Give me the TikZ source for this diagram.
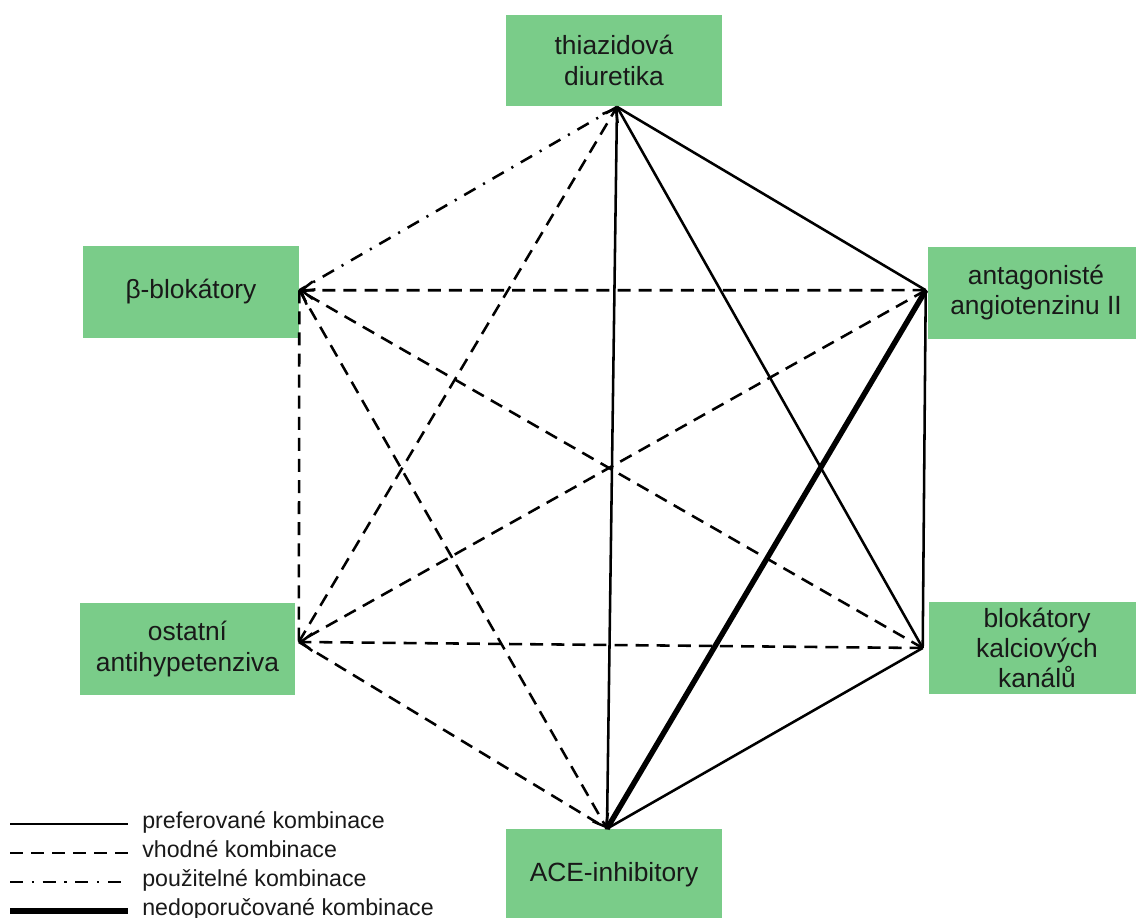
\documentclass[tikz,border=0pt]{standalone}
\usepackage{fontspec}
\setmainfont{Liberation Sans}
\usetikzlibrary{arrows.meta}
\definecolor{boxgreen}{RGB}{122,204,137}
\begin{document}
\begin{tikzpicture}[x=0.02cm,y=-0.02cm,
  box/.style={fill=boxgreen, inner sep=0pt, align=center, minimum width=4.32cm, minimum height=1.84cm,
    font=\fontsize{15}{17.3}\selectfont, text=black!90},
  conn/.style={line width=1.45pt},
  pref/.style={conn},
  vhod/.style={conn, dash pattern=on 7.4pt off 4.6pt},
  pouz/.style={conn, dash pattern=on 7.4pt off 5pt on 1.2pt off 5pt},
  nedo/.style={line width=3.1pt},
  tip/.style={-{Straight Barb[length=6.5pt,width=10pt]}},
  legtext/.style={anchor=mid west, font=\fontsize{13.2}{15}\selectfont, inner sep=0pt, text=black!90}
]
\useasboundingbox (0,0) rectangle (1136,917);
\clip (0,0) rectangle (1136,917);

% boxes
\node[box] (thiaz) at (614,60.5) {thiazidová\\diuretika};
\node[box] (beta) at (191,292) {β-blokátory};
\node[box] (antag) at (1036,292.5) {antagonisté\\angiotenzinu II};
\node[box] (other) at (187.5,649) {ostatní\\antihypetenziva};
\node[box] (blok) at (1037,648) {blokátory\\kalciových\\kanálů};
\node[box] (ace) at (614,875) {ACE-inhibitory};

% connection points
\coordinate (T) at ([xshift=1.7pt]thiaz.south);
\coordinate (B) at ([yshift=1pt]beta.east);
\coordinate (A) at ([xshift=-1.1pt,yshift=1.3pt]antag.west);
\coordinate (K) at ([xshift=-3.4pt]blok.west);
\coordinate (O) at ([xshift=1.7pt,yshift=4pt]other.east);
\coordinate (E) at ([xshift=-4pt]ace.north);

% connectors
\draw[pouz] (T) -- (B);
\draw[pref] (T) -- (E);
\draw[pref] (T) -- (A);
\draw[pref] (T) -- (K);
\draw[vhod,tip] (O) -- (T);
\draw[vhod,tip] (A) -- (B);
\draw[vhod,tip] (K) -- (B);
\draw[vhod] (B) -- (O);
\draw[vhod,tip] (B) -- (E);
\draw[vhod] (A) -- (O);
\draw[nedo] (A) -- (E);
\draw[pref] (A) -- (K);
\draw[vhod,tip] (K) -- (O);
\draw[vhod] (O) -- (E);
\draw[pref] (K) -- (E);

% legend
\coordinate (l1a) at (10,824); \coordinate (l1b) at (128,824);
\coordinate (l2a) at (10,853); \coordinate (l2b) at (128,853);
\coordinate (l3a) at (10,882); \coordinate (l3b) at (128,882);
\coordinate (l4a) at (10,911); \coordinate (l4b) at (128,911);
\draw[pref] (l1a) -- (l1b);
\draw[vhod] (l2a) -- (l2b);
\draw[pouz] (l3a) -- (l3b);
\draw[nedo] (l4a) -- (l4b);
\node[legtext] (lt1) at (142,824) {preferované kombinace};
\node[legtext] (lt2) at (142,853) {vhodné kombinace};
\node[legtext] (lt3) at (142,882) {použitelné kombinace};
\node[legtext] (lt4) at (142,911) {nedoporučované kombinace};
\end{tikzpicture}
\end{document}
